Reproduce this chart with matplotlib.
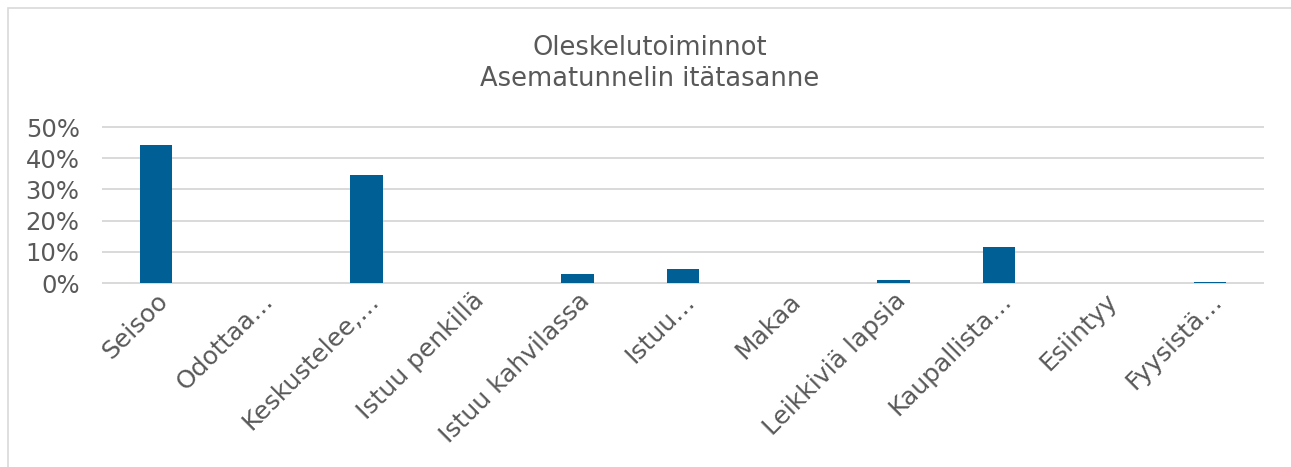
import matplotlib.pyplot as plt
from matplotlib.patches import Rectangle
from matplotlib.ticker import PercentFormatter

categories = ["Seisoo", "Odottaa…", "Keskustelee,…", "Istuu penkillä", "Istuu kahvilassa",
              "Istuu…", "Makaa", "Leikkiviä lapsia", "Kaupallista…", "Esiintyy", "Fyysistä…"]
values = [0.442, 0.0, 0.346, 0.0, 0.029, 0.044, 0.0, 0.009, 0.116, 0.0, 0.003]

bar_color = "#005f94"
text_color = "#595959"
grid_color = "#d9d9d9"

fig = plt.figure(figsize=(12.91, 4.67), dpi=100)
# chart border (only left and top edges fall inside the image)
fig.patches.append(Rectangle((8 / 1291, -0.1), 1.2, 1 - 8 / 467 + 0.1,
                             transform=fig.transFigure, fill=False,
                             edgecolor=grid_color, linewidth=1.2))

ax = fig.add_axes([0.08, 0.394, 0.898, 0.334])
x = range(len(categories))
ax.bar(x, values, width=0.31, color=bar_color, zorder=3)

ax.set_xlim(-0.5, len(categories) - 0.5)
ax.set_ylim(0, 0.5)
ax.set_yticks([0, 0.1, 0.2, 0.3, 0.4, 0.5])
ax.yaxis.set_major_formatter(PercentFormatter(1.0, decimals=0))
ax.grid(axis="y", color=grid_color, linewidth=1.4, zorder=0)
for line in ax.get_ygridlines():
    line.set_clip_on(False)
for s in ax.spines.values():
    s.set_visible(False)
ax.tick_params(axis="y", length=0, labelsize=17.5, colors=text_color, pad=17)
ax.tick_params(axis="x", length=0, labelsize=18, colors=text_color, pad=4)
ax.set_xticks(list(x))
ax.set_xticklabels(categories, rotation=45, ha="right", rotation_mode="anchor")

fig.text(0.503, 0.897, "Oleskelutoiminnot", ha="center", va="center", fontsize=18.5, color=text_color)
fig.text(0.503, 0.830, "Asematunnelin itätasanne", ha="center", va="center", fontsize=18.5, color=text_color)

fig.savefig("out.png", dpi=100)
